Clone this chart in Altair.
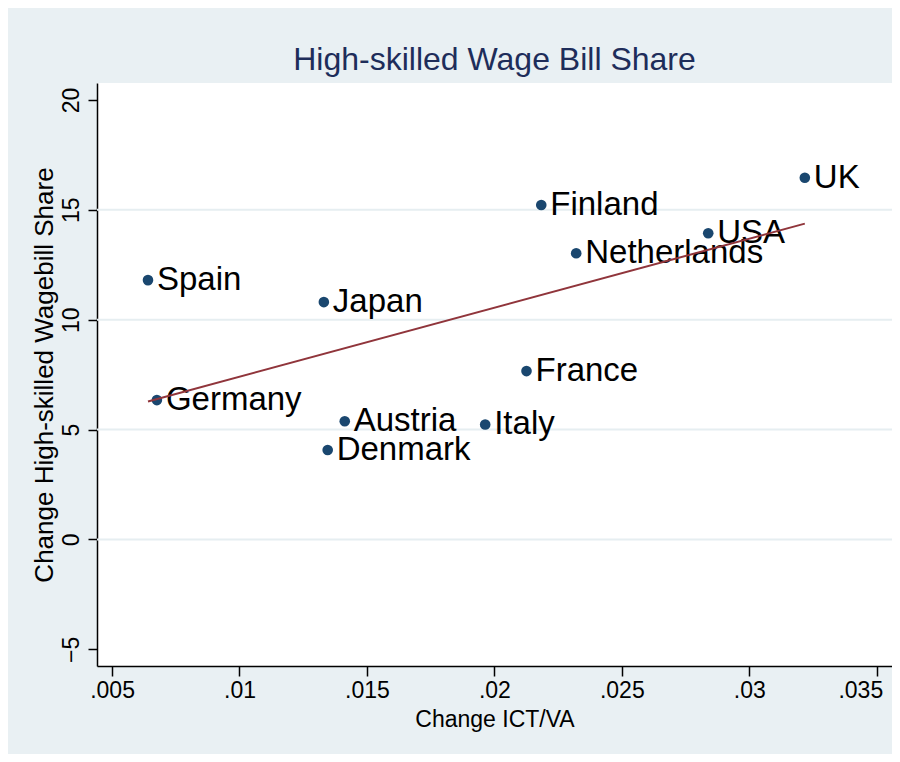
import altair as alt
import pandas as pd

countries = ["Spain", "Germany", "Japan", "Austria", "Denmark", "Italy",
             "France", "Finland", "Netherlands", "USA", "UK"]
ict_change = [0.00641, 0.00676, 0.01331, 0.01413, 0.01346, 0.01964,
              0.02126, 0.02184, 0.02321, 0.02839, 0.03218]
wage_share_change = [11.80, 6.34, 10.80, 5.38, 4.07, 5.23,
                     7.66, 15.22, 13.02, 13.93, 16.46]

x_ticks = [0.005, 0.01, 0.015, 0.02, 0.025, 0.03, 0.035]
y_ticks = [-5, 0, 5, 10, 15, 20]
y_grid = [0, 5, 10, 15]

df = pd.DataFrame({"country": countries, "x": ict_change, "y": wage_share_change})
grid_df = pd.DataFrame({"y": y_grid})

FONT = "Liberation Sans"

x_scale = alt.Scale(domain=[0.00441, 0.0356], nice=False, zero=False)
y_scale = alt.Scale(domain=[-5.76, 20.77], nice=False, zero=False)

x_enc = alt.X("x:Q", scale=x_scale, title="Change ICT/VA",
              axis=alt.Axis(values=x_ticks,
                            labelExpr="replace(format(datum.value, '.3~f'), '0.', '.')",
                            grid=False, labelFontSize=23, titleFontSize=23,
                            labelPadding=3, titlePadding=6, tickSize=10,
                            labelAlign={"condition": {"test": "datum.value > 0.034", "value": "right"},
                                        "value": "center"},
                            labelOffset={"condition": {"test": "datum.value > 0.034", "value": 6},
                                         "value": 0}))
y_enc = alt.Y("y:Q", scale=y_scale, title="Change High-skilled Wagebill Share",
              axis=alt.Axis(values=y_ticks, grid=False, labelAngle=270,
                            labelAlign="center", labelBaseline="bottom",
                            labelFontSize=23, titleFontSize=26, labelPadding=5,
                            titlePadding=3, tickSize=9))

grid = alt.Chart(grid_df).mark_rule(color="#e6eef1", strokeWidth=2).encode(
    y=y_enc
)

points = alt.Chart(df).mark_circle(size=113, color="#1a476f", opacity=1).encode(
    x=x_enc, y=y_enc
)

labels = alt.Chart(df).mark_text(align="left", baseline="middle", dx=9,
                                 fontSize=33, font=FONT, color="#000000").encode(
    x=x_enc, y=y_enc, text="country:N"
)

fit = alt.Chart(df).transform_regression("x", "y").mark_line(
    color="#90353b", strokeWidth=2
).encode(x=x_enc, y=y_enc)

chart = alt.layer(grid, points, labels, fit).properties(
    width=795, height=583,
    title=alt.TitleParams("High-skilled Wage Bill Share", fontSize=32, font=FONT,
                          color="#1e2d5a", anchor="middle", fontWeight="normal",
                          baseline="alphabetic", offset=-19),
    autosize=alt.AutoSizeParams(type="none"),
    padding={"left": 89, "top": 75, "right": 0, "bottom": 88},
).configure(
    background="#e9f0f3",
    font=FONT,
).configure_view(
    fill="#ffffff", stroke=None
).configure_axis(
    domainColor="#000000", domainWidth=1.5, tickColor="#000000", tickWidth=1.5,
    labelColor="#000000", titleColor="#000000", labelFont=FONT, titleFont=FONT,
    titleFontWeight="normal"
)

chart.save("out.html", embed_options={"renderer": "svg", "actions": False})
